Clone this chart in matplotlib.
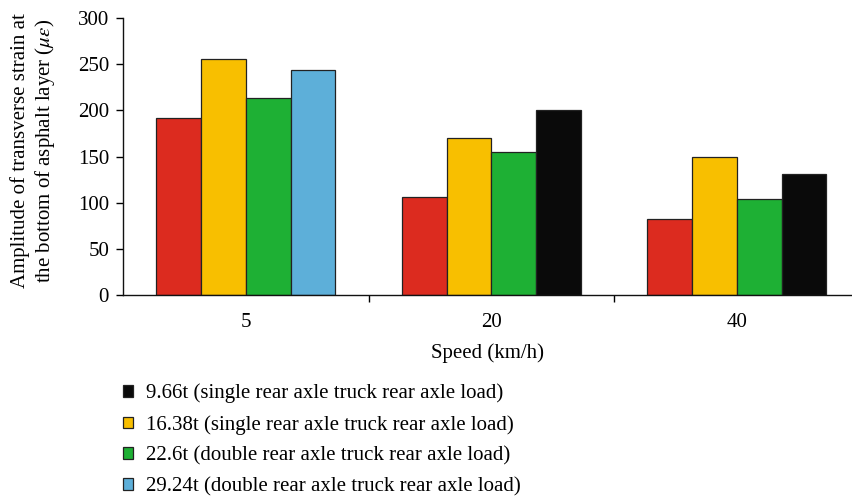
import numpy as np
import matplotlib
matplotlib.use("Agg")
import matplotlib.pyplot as plt
from matplotlib.patches import Patch

plt.rcParams['font.family'] = ['Liberation Serif', 'DejaVu Serif']
plt.rcParams['mathtext.fontset'] = 'stix'

speeds = ['5', '20', '40']
red_vals = [192, 106, 82]
yellow_vals = [256, 170, 150]
green_vals = [213, 155, 104]
last_vals = [244, 200, 131]

legend_labels = [
    '9.66t (single rear axle truck rear axle load)',
    '16.38t (single rear axle truck rear axle load)',
    '22.6t (double rear axle truck rear axle load)',
    '29.24t (double rear axle truck rear axle load)',
]

RED = '#dc2b1f'
YELLOW = '#f8bf00'
GREEN = '#1eb034'
BLUE = '#5dafd9'
BLACK = '#0a0a0a'
last_colors = [BLUE, BLACK, BLACK]

FS = 15

fig = plt.figure(figsize=(8.53, 5.0), dpi=100)
ax = fig.add_axes([123 / 853, 1 - 295 / 500, 730 / 853, 277 / 500])

x = np.arange(len(speeds))
w = 0.1825
kw = dict(width=w, edgecolor='#222222', linewidth=0.9, zorder=2)
ax.bar(x - 1.5 * w, red_vals, color=RED, **kw)
ax.bar(x - 0.5 * w, yellow_vals, color=YELLOW, **kw)
ax.bar(x + 0.5 * w, green_vals, color=GREEN, **kw)
ax.bar(x + 1.5 * w, last_vals, color=last_colors, **kw)

ax.set_xlim(-0.5, 2.473)
ax.set_ylim(0, 300)
ax.set_yticks(range(0, 301, 50))
ax.set_xticks(x)
ax.set_xticklabels(speeds)
ax.set_xticks([0.5, 1.5], minor=True)
ax.tick_params(axis='x', which='major', length=0, pad=13, labelsize=FS)
ax.tick_params(axis='x', which='minor', length=5, width=1, direction='out')
ax.tick_params(axis='y', length=5, width=1, direction='out', labelsize=FS, pad=5)

for s in ['top', 'right']:
    ax.spines[s].set_visible(False)
for s in ['left', 'bottom']:
    ax.spines[s].set_linewidth(1)
    ax.spines[s].set_color('#111111')

ax.set_xlabel('Speed (km/h)', fontsize=FS, labelpad=8)
ax.set_ylabel('Amplitude of transverse strain at\nthe bottom of asphalt layer ($\\mu\\varepsilon$)',
              fontsize=FS, linespacing=1.2)
ax.yaxis.label.set_verticalalignment('center')
ax.yaxis.set_label_coords(-0.1226, 0.52)

handles = [Patch(facecolor=c, edgecolor='#222222', linewidth=0.9)
           for c in [BLACK, YELLOW, GREEN, BLUE]]
fig.legend(handles, legend_labels, loc='upper left', bbox_to_anchor=(104 / 853, 1 - 365 / 500),
           frameon=False, fontsize=FS, handlelength=0.5, handleheight=0.5,
           handletextpad=0.63, labelspacing=0.56)

fig.savefig('out.png', dpi=100)
